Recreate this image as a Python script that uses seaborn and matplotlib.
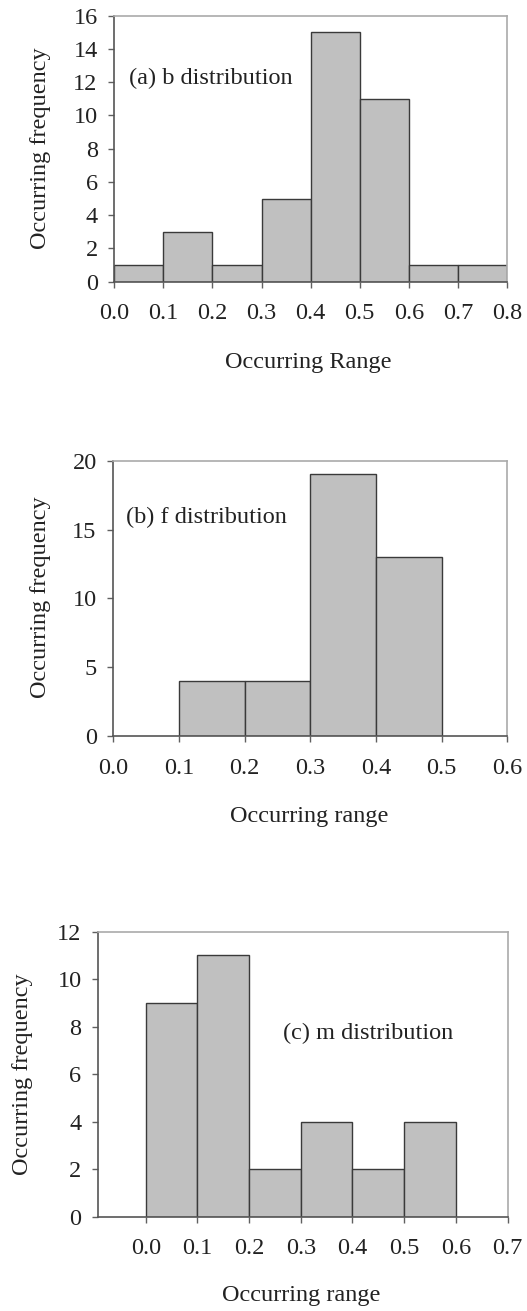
import numpy as np
import pandas as pd
import matplotlib
matplotlib.use('Agg')
from matplotlib import pyplot as plt
import seaborn as sns

# histogram data
b_edges = [0.0, 0.1, 0.2, 0.3, 0.4, 0.5, 0.6, 0.7, 0.8]
b_counts = [1, 3, 1, 5, 15, 11, 1, 1]
f_edges = [0.1, 0.2, 0.3, 0.4, 0.5]
f_counts = [4, 4, 19, 13]
m_edges = [0.0, 0.1, 0.2, 0.3, 0.4, 0.5, 0.6]
m_counts = [9, 11, 2, 4, 2, 4]

b_ticks = [0.0, 0.1, 0.2, 0.3, 0.4, 0.5, 0.6, 0.7, 0.8]
f_ticks = [0.0, 0.1, 0.2, 0.3, 0.4, 0.5, 0.6]
m_ticks = [0.0, 0.1, 0.2, 0.3, 0.4, 0.5, 0.6, 0.7]

sns.set_style('white')
plt.rcParams['font.family'] = ['Liberation Serif', 'DejaVu Serif']
plt.rcParams['text.color'] = '#222222'
plt.rcParams['axes.labelcolor'] = '#222222'

FS = 17.5
fig = plt.figure(figsize=(5.27, 13.11), dpi=100)

panels = [
    # rect, edges, counts, xlim, ylim, yticks, xticks, xlabel, note, note_xy, xlab_xy, ylab_xy
    ([0.2169, 0.7851, 0.7452, 0.2029], b_edges, b_counts, (0.0, 0.8), (0, 16), range(0, 17, 2), b_ticks,
     'Occurring Range', '(a) b distribution', (0.030, 12.25), (0.493, -0.302), (-0.189, 0.503)),
    ([0.2150, 0.4386, 0.7476, 0.2100], f_edges, f_counts, (0.0, 0.6), (0, 20), range(0, 21, 5), f_ticks,
     'Occurring range', '(b) f distribution', (0.019, 15.9), (0.497, -0.294), (-0.186, 0.503)),
    ([0.1865, 0.0719, 0.7765, 0.2174], m_edges, m_counts, (-0.092, 0.7), (0, 12), range(0, 13, 2), m_ticks,
     'Occurring range', '(c) m distribution', (0.2655, 7.73), (0.495, -0.275), (-0.184, 0.50)),
]

for rect, edges, counts, xlim, ylim, yticks, xticks, xlab, note, note_xy, xlab_xy, ylab_xy in panels:
    ax = fig.add_axes(rect)
    e = np.array(edges)
    df = pd.DataFrame({'mid': (e[:-1] + e[1:]) / 2, 'n': counts})
    sns.histplot(data=df, x='mid', weights='n', bins=list(edges), ax=ax, color='#c0c0c0',
                 edgecolor='#3a3a3a', linewidth=1.0, alpha=1)
    ax.set_xlim(*xlim)
    ax.set_ylim(*ylim)
    ax.set_xticks(xticks)
    ax.set_xticklabels(['%.1f' % t for t in xticks])
    ax.set_yticks(list(yticks))
    ax.tick_params(axis='both', direction='out', length=4, width=1, color='#606060',
                   labelsize=FS, labelcolor='#222222')
    ax.tick_params(axis='x', pad=11.5, bottom=True)
    ax.tick_params(axis='y', pad=8, left=True)
    for side in ['left', 'bottom']:
        ax.spines[side].set_color('#555555')
        ax.spines[side].set_linewidth(1.2)
    for side in ['top', 'right']:
        ax.spines[side].set_color('#aaaaaa')
        ax.spines[side].set_linewidth(1.2)
    ax.set_xlabel(xlab, fontsize=FS)
    ax.set_ylabel('Occurring frequency', fontsize=FS)
    ax.xaxis.set_label_coords(*xlab_xy)
    ax.xaxis.label.set_verticalalignment('center')
    ax.yaxis.set_label_coords(*ylab_xy)
    ax.yaxis.label.set_verticalalignment('center')
    ax.text(note_xy[0], note_xy[1], note, fontsize=FS, ha='left', va='center')

fig.savefig('out.png', dpi=100)
